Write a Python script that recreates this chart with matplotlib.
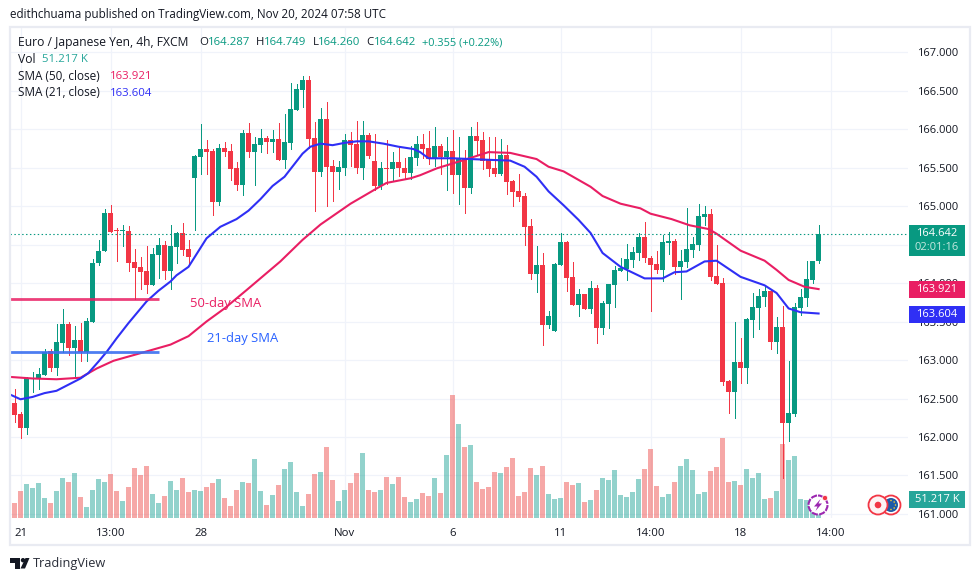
#!/usr/bin/env python3
# EUR/JPY 4h chart, TradingView style
from matplotlib import pyplot as plt
from matplotlib.patches import Rectangle, Circle, Polygon
import numpy as np

plt.rcParams['font.family'] = ['Open Sans', 'DejaVu Sans']

opens = [162.44,162.30,162.12,162.76,162.75,162.80,163.12,162.90,163.22,163.47,
         163.15,163.26,163.10,163.50,164.26,164.41,164.91,164.68,164.67,164.67,
         164.27,164.21,164.16,163.97,164.36,164.49,164.16,164.47,164.65,164.44,
         165.36,165.64,165.74,165.71,165.05,165.75,165.71,165.49,165.27,165.95,
         165.70,165.79,165.88,165.83,165.87,165.60,165.82,166.25,166.51,166.64,
         165.88,165.44,166.13,165.52,165.44,165.49,165.86,165.80,165.49,165.92,
         165.58,165.26,165.49,165.48,165.57,165.50,165.43,165.62,165.80,165.75,
         165.61,165.78,165.64,165.71,165.40,165.61,165.23,165.91,165.86,165.60,
         165.49,165.42,165.66,165.32,165.20,165.13,164.74,164.12,164.23,163.45,
         163.38,164.23,164.53,164.08,163.71,163.86,163.66,163.93,163.42,163.73,
         163.97,164.16,164.18,164.30,164.39,164.60,164.33,164.25,164.17,164.52,
         164.54,164.21,164.27,164.43,164.49,164.86,164.90,164.09,164.00,162.73,
         162.58,162.97,162.90,163.52,163.68,163.82,163.90,163.23,163.43,162.18,
         162.30,163.68,163.81,164.04,164.287]
highs = [162.62,162.32,162.78,162.84,162.89,163.14,163.14,163.47,163.66,163.50,
         163.44,163.48,163.54,164.31,164.56,164.96,165.01,164.71,164.75,164.74,
         164.44,164.34,164.48,164.46,164.58,164.54,164.75,164.66,164.78,164.56,
         165.66,166.06,165.86,165.74,165.81,165.83,165.80,165.57,165.99,166.08,
         165.89,166.00,165.91,165.99,166.08,166.19,166.60,166.58,166.69,166.69,
         166.09,166.27,166.35,165.60,165.58,165.93,165.96,166.10,166.10,165.95,
         165.93,165.57,165.86,165.70,165.77,165.62,165.78,165.91,165.93,165.97,
         166.03,165.81,165.89,165.99,165.90,165.73,166.03,166.09,165.96,165.90,
         165.90,165.87,165.79,165.34,165.42,165.17,164.83,164.48,164.39,163.64,
         164.26,164.65,164.55,164.27,163.92,163.86,164.03,163.97,163.77,163.99,
         164.22,164.32,164.51,164.47,164.65,164.79,164.35,164.42,164.62,164.66,
         164.57,164.43,164.97,164.60,165.03,165.00,164.96,164.49,164.06,162.74,
         163.49,163.29,163.55,163.87,163.92,163.97,163.91,163.56,163.70,162.99,
         163.74,163.92,164.29,164.29,164.749]
lows = [162.20,161.99,162.04,162.59,162.62,162.80,162.86,162.80,163.10,163.06,
        162.76,162.99,162.99,163.49,164.23,164.41,164.66,164.29,164.48,164.16,
        163.79,163.92,163.87,163.97,164.07,164.05,163.92,164.26,164.36,164.26,
        164.69,165.42,165.42,164.88,165.01,165.65,165.34,165.21,165.14,165.64,
        165.27,165.70,165.69,165.70,165.60,165.49,165.74,166.25,166.29,165.75,
        164.94,165.39,165.00,165.06,165.22,165.40,165.52,165.43,165.35,165.62,
        165.21,165.22,165.29,165.32,165.39,165.35,165.35,165.53,165.62,165.55,
        165.52,165.42,165.21,165.17,165.03,164.91,165.17,165.66,165.48,165.39,
        165.39,165.40,165.16,165.00,165.06,164.49,164.05,163.88,163.19,163.42,
        163.38,164.23,163.90,163.71,163.57,163.66,163.61,163.22,163.34,163.42,
        163.69,164.16,164.04,164.21,164.30,164.27,163.63,164.13,164.03,164.38,
        164.12,163.79,164.21,164.34,164.43,164.75,164.04,163.99,162.68,162.31,
        162.25,162.70,162.70,163.30,163.40,163.70,163.14,163.09,161.47,161.95,
        162.27,163.58,163.70,164.00,164.26]
closes = [162.29,162.12,162.76,162.76,162.82,163.11,162.90,163.23,163.47,163.15,
          163.26,163.10,163.51,164.26,164.42,164.91,164.66,164.67,164.68,164.26,
          164.19,164.14,163.97,164.38,164.49,164.16,164.48,164.65,164.43,164.34,
          165.65,165.74,165.70,165.05,165.75,165.70,165.48,165.27,165.95,165.70,
          165.81,165.88,165.83,165.87,165.60,165.83,166.26,166.52,166.64,165.87,
          165.44,166.13,165.51,165.44,165.51,165.86,165.79,165.49,165.92,165.65,
          165.26,165.49,165.48,165.57,165.49,165.43,165.64,165.80,165.74,165.61,
          165.78,165.64,165.71,165.40,165.61,165.23,165.91,165.84,165.58,165.48,
          165.42,165.66,165.31,165.18,165.12,164.73,164.12,164.23,163.45,163.57,
          164.25,164.53,164.07,163.71,163.86,163.66,163.93,163.42,163.74,163.99,
          164.17,164.19,164.31,164.40,164.60,164.33,164.23,164.17,164.53,164.54,
          164.21,164.29,164.44,164.51,164.87,164.90,164.08,163.99,162.71,162.58,
          162.97,162.90,163.53,163.69,163.83,163.90,163.23,163.43,162.18,162.31,
          163.69,163.82,164.05,164.29,164.642]

# volume in K, first value is the bar cut off by the left edge (index -1)
volumes = [58.8,42,75.6,95.2,84,98,56,42,75.6,112,100.8,126,58.8,30.8,78.4,109.2,
           100.8,123.2,75.6,47.6,86.8,140,120.4,145.6,67.2,42,61.6,103.6,78.4,112,
           72.8,78.4,75.6,86.8,98,109.2,56,33.6,78.4,100.8,98,165.2,75.6,36.4,64.4,
           92.4,137.2,156.8,72.8,33.6,67.2,123.2,128.8,198.8,106.4,47.6,78.4,98,126,
           182,78.4,72.8,78.4,114.8,95.2,114.8,58.8,44.8,53.2,
           70,61.6,112,70,176.4,344.4,263.2,198.8,204.4,100.8,81.2,86.8,128.8,126,
           142.8,168,61.6,72.8,140,120.4,145.6,67.2,53.2,56,100.8,92.4,98,44.8,50.4,
           78.4,112,106.4,134.4,64.4,58.8,72.8,109.2,137.2,193.2,89.6,58.8,67.2,
           100.8,145.6,165.2,134.4,67.2,72.8,131.6,142.8,224,100.8,103.6,92.4,137.2,
           112,126,53.2,56,75.6,207.2,162.4,173.6,53.2,50.4,44.8,51.217]

sma21_x = [-0.7,1,3,5,7,9,11,12.3,14,15.4,17,19,22,24,26,27,29,32,34.3,37,39,41,43,45,
           48,49.3,51,53,55,57,59,61.5,64,66.5,67.6,69,73,79,82.6,85,87,89,91.5,94,96,
           98,101,102.6,105,108,110,112,115,117,121,125,127,129,131,134]
sma21 = [162.55,162.49,162.52,162.57,162.60,162.68,162.76,162.83,162.98,163.11,163.28,
         163.48,163.76,163.90,164.02,164.10,164.21,164.58,164.73,164.83,164.94,165.09,
         165.26,165.38,165.68,165.77,165.81,165.79,165.82,165.84,165.84,165.81,165.77,
         165.74,165.70,165.62,165.62,165.60,165.59,165.51,165.38,165.19,165.01,164.82,
         164.65,164.39,164.21,164.15,164.06,164.06,164.14,164.15,164.28,164.29,164.08,
         163.97,163.87,163.67,163.62,163.604]
sma50_x = [-0.7,3,7,11,13.7,16.5,21.5,26,29,32,35,38.7,44.3,48,51,56,60.4,62,66,67.6,
           70.4,75,79,82.6,87,89,91.5,96,98,101,104.3,106,109.5,112.5,115.7,117,121,
           125,127,129,131.7,134]
sma50 = [162.78,162.76,162.75,162.77,162.89,162.99,163.10,163.20,163.31,163.50,163.67,
         163.91,164.28,164.56,164.76,165.03,165.23,165.30,165.36,165.40,165.49,165.60,
         165.70,165.69,165.61,165.51,165.45,165.25,165.13,165.03,164.97,164.90,164.83,
         164.75,164.70,164.64,164.42,164.29,164.17,164.04,163.95,163.921]

price_ticks = [161.0,161.5,162.0,162.5,163.0,163.5,164.0,164.5,165.0,165.5,166.0,166.5,167.0]
time_ticks = [1,16,31,55,73,91,106,121,136]
time_labels = ["21","13:00","28","Nov","6","11","14:00","18","14:00"]

last_price = 164.642
level_50 = 163.796
level_21 = 163.104

green = "#089981"
red = "#f23645"
pink = "#e91e63"
blue = "#2f2ff5"
ink = "#131722"
grid = "#f0f3fa"

W, H = 980, 581
XLIM = (-0.75, 148.9)
YLIM = (160.948, 167.312)
fig = plt.figure(figsize=(W/100, H/100), dpi=100, facecolor="white")

def pane(x0, y0, x1, y1):
    # pixel box (from top left) to figure fractions
    return [x0/W, 1-y1/H, (x1-x0)/W, (y1-y0)/H]

# grid at the back, then volume, then candles
axg = fig.add_axes(pane(10, 28, 908, 518), zorder=0)
axv = fig.add_axes(pane(10, 28, 908, 518), zorder=1)
ax = fig.add_axes(pane(10, 28, 908, 518), zorder=2)
ax.patch.set_visible(False)
axv.patch.set_visible(False)

axg.set_xlim(XLIM)
axg.set_ylim(YLIM)
axg.set_xticks(time_ticks)
axg.set_yticks(price_ticks)
axg.grid(True, color=grid, linewidth=0.9)
axg.tick_params(length=0, labelbottom=False, labelleft=False)
for s in axg.spines.values():
    s.set_visible(False)

x = np.arange(len(closes))
o = np.array(opens)
c = np.array(closes)
up = c >= o
cols = [green if u else red for u in up]

vx = np.arange(-1, len(closes))
vcols = ["#26a69a"] + ["#26a69a" if u else "#ef5350" for u in up]
axv.bar(vx, volumes, width=5/6, color=vcols, alpha=0.5, linewidth=0)
axv.set_xlim(XLIM)
axv.set_ylim(0, 1372)
axv.axis("off")

ax.vlines(x, lows, highs, color=cols, linewidth=0.72, antialiased=False, zorder=3)
body = np.maximum(np.abs(c-o), 0.012)
ax.bar(x, body, bottom=np.minimum(o, c), width=5/6, color=cols, linewidth=0, zorder=4)

ax.plot(sma50_x, sma50, color=pink, linewidth=1.5, zorder=5)
ax.plot(sma21_x, sma21, color=blue, linewidth=1.5, zorder=6)
ax.axhline(last_price, color=green, linewidth=0.8, linestyle=(0, (1.3, 2.2)), zorder=5)

# hand drawn levels on the picture
ax.hlines(level_50, XLIM[0], 24, color=pink, linewidth=2.0, alpha=0.85, zorder=7)
ax.hlines(level_21, XLIM[0], 24, color="#3a6ff0", linewidth=2.0, alpha=0.9, zorder=7)
ax.text(29.3, 163.73, "50-day SMA", color=pink, fontsize=9.4, va="center", ha="left", zorder=8)
ax.text(32.1, 163.28, "21-day SMA", color="#2962ff", fontsize=9.4, va="center", ha="left", zorder=8)

ax.set_xlim(XLIM)
ax.set_ylim(YLIM)
ax.yaxis.tick_right()
ax.set_yticks(price_ticks)
ax.set_yticklabels(["%.3f" % p for p in price_ticks])
ax.set_xticks(time_ticks)
ax.set_xticklabels(time_labels)
ax.tick_params(axis="y", length=0, pad=6.5, labelsize=8.0, labelcolor=ink)
ax.tick_params(axis="x", length=0, pad=7.3, labelsize=8.2, labelcolor=ink)
for s in ax.spines.values():
    s.set_visible(False)

# overlay in pixel coordinates for frame, header, tags and icons
ov = fig.add_axes([0, 0, 1, 1], zorder=5)
ov.set_xlim(0, W)
ov.set_ylim(H, 0)
ov.axis("off")

ov.add_patch(Rectangle((10, 27), 960, 518, fill=False, edgecolor="#e9ebf2", linewidth=1.6))

def put(px, py, s, color=ink, size=8.2, ha="left"):
    ov.text(px, py, s, color=color, fontsize=size, va="center", ha=ha)

put(10, 14.5, "edithchuama published on TradingView.com, Nov 20, 2024 07:58 UTC", size=8.35)
put(18, 42.7, "Euro / Japanese Yen, 4h, FXCM", size=8.7)
put(199, 42.7, "O")
put(208, 42.7, "164.287", green)
put(256, 42.7, "H")
put(264, 42.7, "164.749", green)
put(313, 42.7, "L")
put(318, 42.7, "164.260", green)
put(366, 42.7, "C")
put(374, 42.7, "164.642", green)
put(422, 42.7, "+0.355 (+0.22%)", green, 7.9)
put(18, 59.7, "Vol", size=8.7)
put(42, 59.7, "51.217 K", "#26a69a")
put(18, 76.7, "SMA (50, close)", size=8.5)
put(110, 76.7, "163.921", pink)
put(18, 93, "SMA (21, close)", size=8.5)
put(110, 93, "163.604", blue)

def tag(y0, y1, color):
    ov.add_patch(Rectangle((909, y0), 56, y1-y0, facecolor=color, edgecolor="none", zorder=3))

tag(225, 255.5, green)
ov.text(937, 234, "164.642", color="white", fontsize=8.0, ha="center", va="center", zorder=4)
ov.text(937, 247.5, "02:01:16", color="#c5e8e0", fontsize=8.0, ha="center", va="center", zorder=4)
tag(281, 297.7, pink)
ov.text(937, 289.5, "163.921", color="white", fontsize=8.0, ha="center", va="center", zorder=4)
tag(306, 323, blue)
ov.text(937, 314.5, "163.604", color="white", fontsize=8.0, ha="center", va="center", zorder=4)
tag(491, 508, "#26a69a")
ov.text(937, 499.5, "51.217 K", color="white", fontsize=8.0, ha="center", va="center", zorder=4)

# lightning badge
ov.add_patch(Circle((818, 505), 9.5, facecolor="white", edgecolor="#9c27b0", linewidth=1.5,
                    linestyle=(0, (3, 0.6)), zorder=3))
ov.add_patch(Polygon([(820.5, 499), (814, 506.5), (817.5, 506.5), (815.5, 511),
                      (822, 503.5), (818.5, 503.5)], facecolor="#9c27b0", edgecolor="none", zorder=4))
ov.add_patch(Circle((825, 498), 2.6, facecolor=red, edgecolor="white", linewidth=0.5, zorder=5))

# earnings / flag badges
ov.add_patch(Circle((891, 505), 9.5, facecolor="white", edgecolor=red, linewidth=1.3, zorder=3))
ov.add_patch(Circle((891, 505), 7, facecolor="#1e5aa8", edgecolor="none", zorder=3))
for dx, dy in [(0, -4.5), (3.2, -3), (4.5, 0), (3.2, 3), (0, 4.5)]:
    ov.add_patch(Circle((891+dx, 505+dy), 0.8, facecolor="#f4c430", edgecolor="none", zorder=3))
ov.add_patch(Circle((878, 505), 9.5, facecolor="#fdf3f4", edgecolor=red, linewidth=1.3, zorder=4))
ov.add_patch(Circle((878, 505), 3.3, facecolor=red, edgecolor="none", zorder=5))

# TradingView logo
ov.add_patch(Polygon([(10, 558), (20, 558), (20, 568.5), (14.5, 568.5), (14.5, 562.5), (10, 562.5)],
                     facecolor=ink, edgecolor="none"))
ov.add_patch(Circle((23, 560.2), 2.2, facecolor=ink, edgecolor="none"))
ov.add_patch(Polygon([(25.5, 558), (29.5, 558), (25, 568.5), (20.5, 568.5)],
                     facecolor=ink, edgecolor="none"))
put(33, 563.5, "TradingView", "#2a2e39", 9.2)

plt.savefig("out.png", dpi=100)
